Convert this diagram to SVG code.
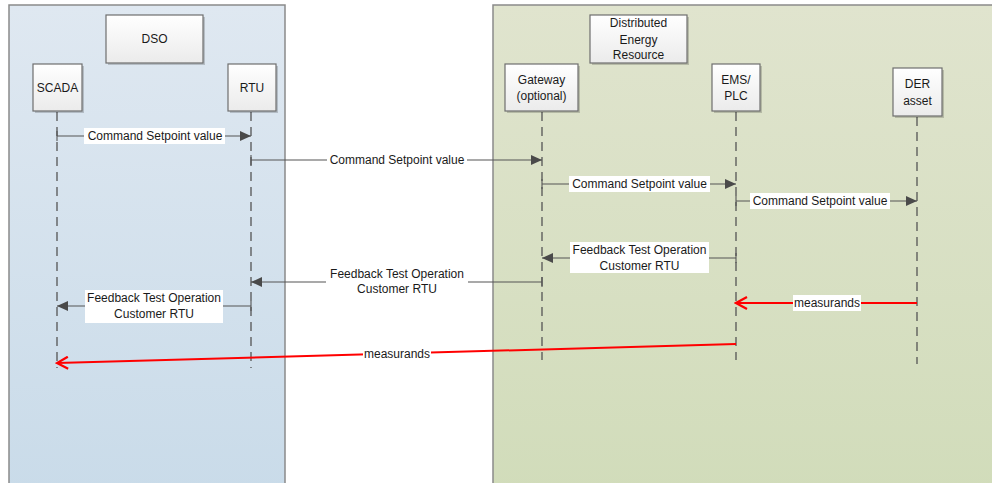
<svg xmlns="http://www.w3.org/2000/svg" width="992" height="483" viewBox="0 0 992 483">
<defs>
<linearGradient id="gDso" x1="0" y1="0" x2="0" y2="1"><stop offset="0" stop-color="#dfe8f1"/><stop offset="1" stop-color="#c9dbe9"/></linearGradient>
<linearGradient id="gDer" x1="0" y1="0" x2="0" y2="1"><stop offset="0" stop-color="#e0e4ce"/><stop offset="1" stop-color="#d1dcba"/></linearGradient>
<linearGradient id="gBox" x1="0" y1="0" x2="0" y2="1"><stop offset="0" stop-color="#ffffff"/><stop offset="1" stop-color="#ebebeb"/></linearGradient>
<marker id="aFill" markerWidth="12" markerHeight="10" refX="11" refY="5" orient="auto" markerUnits="userSpaceOnUse"><path d="M0,0 L11,5 L0,10 Z" fill="#4a4a4a"/></marker>
<marker id="aRed" markerWidth="14" markerHeight="14" refX="12" refY="7" orient="auto" markerUnits="userSpaceOnUse"><path d="M1,1 L12,7 L1,13" fill="none" stroke="#ff0000" stroke-width="2.2"/></marker>
</defs>
<style>
.panel{stroke:#8a8a8a;stroke-width:1.5}
.box{fill:url(#gBox);stroke:#6e6e6e;stroke-width:1.2}
.shadow{fill:#000;opacity:0.18}
.t{font-family:"Liberation Sans",Arial,sans-serif;font-size:12px;fill:#1a1a1a;text-anchor:middle}
.life{stroke:#555;stroke-width:1.3;stroke-dasharray:9,6;fill:none}
.msg{stroke:#555;stroke-width:1.1;fill:none}
.red{stroke:#ff0000;stroke-width:2;fill:none}
.lbl{fill:#ffffff}
</style>
<rect width="992" height="483" fill="#ffffff"/>
<g id="panel-dso"><rect class="panel" x="9" y="5" width="276" height="490" fill="url(#gDso)"/></g>
<g id="panel-der"><rect class="panel" x="493" y="5" width="520" height="490" fill="url(#gDer)"/></g>

<g id="lifelines">
<line class="life" x1="57" y1="112" x2="57" y2="368"/>
<line class="life" x1="251" y1="112" x2="251" y2="368"/>
<line class="life" x1="542" y1="112" x2="542" y2="360"/>
<line class="life" x1="736" y1="112" x2="736" y2="360"/>
<line class="life" x1="917" y1="117" x2="917" y2="364"/>
</g>

<g id="dso"><rect class="shadow" x="108" y="17" width="97" height="48"/><rect class="box" x="106" y="15" width="97" height="48"/><text class="t" x="154.5" y="43">DSO</text></g>
<g id="scada"><rect class="shadow" x="35" y="66" width="49" height="47"/><rect class="box" x="33" y="64" width="49" height="47"/><text class="t" x="57.5" y="92">SCADA</text></g>
<g id="rtu"><rect class="shadow" x="230" y="66" width="48" height="47"/><rect class="box" x="228" y="64" width="48" height="47"/><text class="t" x="252" y="92">RTU</text></g>
<g id="der"><rect class="shadow" x="592" y="17" width="97" height="48"/><rect class="box" x="590" y="15" width="97" height="48"/><text class="t" x="638.5" y="27">Distributed</text><text class="t" x="638.5" y="44">Energy</text><text class="t" x="638.5" y="59">Resource</text></g>
<g id="gateway"><rect class="shadow" x="507" y="66" width="73" height="47"/><rect class="box" x="505" y="64" width="73" height="47"/><text class="t" x="541.5" y="84">Gateway</text><text class="t" x="541.5" y="100">(optional)</text></g>
<g id="ems"><rect class="shadow" x="714" y="66" width="48" height="47"/><rect class="box" x="712" y="64" width="48" height="47"/><text class="t" x="736" y="84">EMS/</text><text class="t" x="736" y="100">PLC</text></g>
<g id="derasset"><rect class="shadow" x="895" y="70" width="49" height="48"/><rect class="box" x="893" y="68" width="49" height="48"/><text class="t" x="917.5" y="88">DER</text><text class="t" x="917.5" y="105">asset</text></g>

<g id="connectors">
<line class="msg" x1="57" y1="136" x2="251" y2="136" marker-end="url(#aFill)"/><line class="msg" x1="57" y1="131" x2="57" y2="141"/>
<rect class="lbl" x="84" y="128" width="141" height="16"/><text class="t" x="155" y="140">Command Setpoint value</text>

<line class="msg" x1="251" y1="160" x2="542" y2="160" marker-end="url(#aFill)"/><line class="msg" x1="251" y1="155" x2="251" y2="165"/>
<rect class="lbl" x="327" y="152" width="140" height="16"/><text class="t" x="397" y="164">Command Setpoint value</text>

<line class="msg" x1="542" y1="184" x2="736" y2="184" marker-end="url(#aFill)"/><line class="msg" x1="542" y1="179" x2="542" y2="189"/>
<rect class="lbl" x="569" y="176" width="141" height="16"/><text class="t" x="639.5" y="188">Command Setpoint value</text>

<line class="msg" x1="736" y1="201" x2="917" y2="201" marker-end="url(#aFill)"/><line class="msg" x1="736" y1="196" x2="736" y2="206"/>
<rect class="lbl" x="750" y="193" width="140" height="16"/><text class="t" x="820" y="205">Command Setpoint value</text>

<line class="msg" x1="736" y1="258" x2="542" y2="258" marker-end="url(#aFill)"/><line class="msg" x1="736" y1="253" x2="736" y2="263"/>
<rect class="lbl" x="570" y="242" width="139" height="31"/><text class="t" x="639.5" y="254">Feedback Test Operation</text><text class="t" x="639.5" y="270">Customer RTU</text>

<line class="msg" x1="542" y1="282" x2="251" y2="282" marker-end="url(#aFill)"/><line class="msg" x1="542" y1="277" x2="542" y2="287"/>
<rect class="lbl" x="326" y="267" width="142" height="31"/><text class="t" x="397" y="278">Feedback Test Operation</text><text class="t" x="397" y="293">Customer RTU</text>

<line class="msg" x1="251" y1="306" x2="57" y2="306" marker-end="url(#aFill)"/><line class="msg" x1="251" y1="301" x2="251" y2="311"/>
<rect class="lbl" x="85" y="290" width="138" height="33"/><text class="t" x="154" y="302">Feedback Test Operation</text><text class="t" x="154" y="318">Customer RTU</text>

<line class="red" x1="917" y1="303" x2="736" y2="303" marker-end="url(#aRed)"/>
<rect class="lbl" x="793" y="295" width="68" height="16"/><text class="t" x="827" y="307">measurands</text>

<line class="red" x1="736" y1="344" x2="57" y2="363" marker-end="url(#aRed)"/>
<rect class="lbl" x="363" y="346" width="68" height="16"/><text class="t" x="397" y="358">measurands</text>
</g>
</svg>
